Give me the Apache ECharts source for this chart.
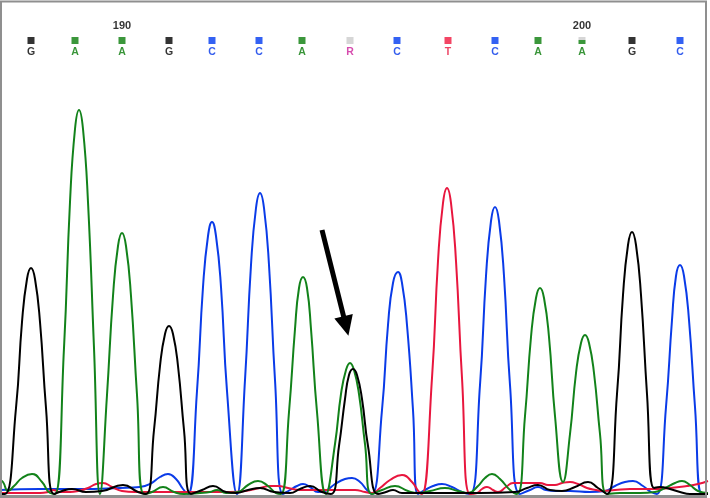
<!DOCTYPE html>
<html>
<head>
<meta charset="utf-8">
<script src="https://cdn.jsdelivr.net/npm/echarts@6/dist/echarts.min.js"></script>
<style>
html,body{margin:0;padding:0;background:#fff;}
#chart{width:710px;height:498px;}
</style>
</head>
<body>
<div id="chart"></div>
<script>
// ---- Data ----
const baseCalls = ['G','A','A','G','C','C','A','R','C','T','C','A','A','G','C'];
const basePositions = [31,75,122,169,212,259,302,350,397,448,495,538,582,632,680];
const tickLabels = ['190','200'];
const tickBaseIndex = [2,12];
const halfQualityIndex = [12];

// trace samples: [scan position, signal]
const traceG = [
[0,0],[5,0],[16,86],[22,172],[27,215],[31,226],[35,215],[40,172],[46,86],[54,0],
[62,3],[72,5],[86,2],[102,3],[123,9],[138,2],
[146,0],[154,64],[160,128],[165,160],[169,168],[173,160],[178,128],[184,64],[191,0],
[202,4],[213,8],[226,2],[236,1],[248,4],[260,6],[274,2],[290,1],[300,5],[310,8],[322,2],
[331,0],[339,48],[345,95],[349,119],[353,125],[357,119],[362,95],[368,48],[378,0],
[386,2],[393,4],[402,1],[440,1],[480,1],[515,2],[527,6],[538,9],[550,4],[562,3],[575,7],[588,12],[598,6],
[607,0],[617,100],[623,199],[628,249],[632,262],[636,249],[641,199],[647,100],[654,6],
[660,7],[670,5],[680,2],[690,0],[708,0]
];
const traceA = [
[0,14],[3,12],[8,3],[14,8],[22,16],[32,20],[42,12],[50,1],
[55,0],[64,146],[70,292],[75,365],[79,384],[83,365],[88,292],[94,146],[100,0],
[107,99],[113,198],[118,248],[122,261],[126,248],[131,198],[137,99],[144,0],
[152,2],[163,7],[174,2],[184,0],[200,1],[210,2],[217,4],[226,1],[238,2],[248,9],[258,13],[268,8],[276,1],
[281,0],[289,82],[295,165],[299,206],[303,217],[307,206],[311,165],[317,82],[326,0],
[335,50],[341,100],[346,124],[350,131],[354,124],[359,100],[365,50],[372,0],
[382,4],[395,8],[408,3],[418,1],[430,3],[445,6],[458,3],[468,1],
[478,8],[485,16],[492,20],[500,15],[510,4],
[517,0],[525,78],[531,157],[536,196],[540,206],[544,196],[549,157],[555,78],[563,12],
[570,60],[576,121],[581,151],[585,159],[589,151],[594,121],[600,60],[607,0],
[620,1],[640,1],[655,2],[665,6],[675,11],[682,13],[690,9],[698,3],[708,1]
];
const traceC = [
[0,4],[40,5],[80,5],[120,6],[140,7],[150,10],[160,17],[168,20],[176,15],[183,5],
[188,0],[197,103],[203,207],[208,258],[212,272],[216,258],[221,207],[227,103],[237,0],
[245,114],[251,229],[256,286],[260,301],[264,286],[269,229],[275,114],[283,0],
[290,4],[297,8],[303,10],[310,7],[318,2],[325,3],[335,10],[345,15],[352,16],[360,12],[367,4],
[372,0],[382,84],[388,169],[393,211],[398,222],[402,211],[407,169],[413,84],[418,0],
[425,4],[433,8],[442,10],[452,7],[462,2],
[470,0],[480,109],[486,218],[491,273],[495,287],[499,273],[504,218],[510,109],[520,0],
[530,4],[538,7],[546,4],[556,3],[570,3],[590,2],[605,3],[615,8],[625,12],[633,13],[643,8],[651,2],
[657,0],[666,87],[672,174],[676,218],[680,229],[684,218],[689,174],[695,87],[702,0],[708,0]
];
const traceT = [
[0,1],[40,1],[48,2],[53,4],[60,2],[70,2],[78,3],[88,6],[96,10],[103,11],[112,7],[122,3],[135,2],[160,2],[200,2],[230,2],
[245,3],[260,6],[270,8],[278,8],[288,6],[300,4],[315,4],[335,4],[355,4],[365,2],[372,1],[380,6],[390,14],[402,19],[412,12],[419,2],
[422,0],[432,116],[438,233],[443,291],[447,306],[451,291],[456,233],[462,116],[470,0],
[477,1],[482,5],[487,7],[493,4],[498,2],[506,7],[513,11],[525,11],[540,11],[548,9],[555,9],[562,11],[570,12],[578,10],[587,6],[596,4],[603,3],
[615,4],[630,5],[650,5],[670,6],[687,8],[698,10],[708,13]
];
// arrow annotation (data units)
const arrowStart = [322, 264];
const arrowEnd = [346, 168];

// ---- Styling ----
const traceColors = { G: '#000000', A: '#12821a', C: '#0a3be8', T: '#e8163e' };
const squareColors = { G: '#000000', A: '#0a7d0a', C: '#0039f0', T: '#f0173d', R: '#cccccc' };
const letterColors = { G: '#000000', A: '#087a08', C: '#0034e8', T: '#e8163e', R: '#cc1f9a' };
const ROW = 453.5;

const chart = echarts.init(document.getElementById('chart'), null, { renderer: 'canvas' });

const callData = baseCalls.map((b, i) => {
  let color = squareColors[b];
  if (halfQualityIndex.includes(i)) {
    color = new echarts.graphic.LinearGradient(0, 0, 0, 1, [
      { offset: 0, color: '#cccccc' }, { offset: 0.45, color: '#cccccc' },
      { offset: 0.45, color: squareColors[b] }, { offset: 1, color: squareColors[b] }
    ]);
  }
  return {
    value: [basePositions[i], ROW],
    itemStyle: { color: color },
    label: { color: letterColors[b] }
  };
});
const tickData = tickBaseIndex.map((idx, k) => ({
  value: [basePositions[idx], ROW], name: tickLabels[k]
}));

function trace(name, data) {
  return {
    type: 'line', name: name, data: data, smooth: 0.5, showSymbol: false, symbol: 'none',
    lineStyle: { color: traceColors[name], width: 2 }, silent: true, z: 2
  };
}

const option = {
  animation: false,
  backgroundColor: '#ffffff',
  grid: { left: 0, top: 0, width: 710, height: 494 },
  xAxis: { type: 'value', min: 0, max: 710, show: false },
  yAxis: { type: 'value', min: 0, max: 494, show: false },
  series: [
    trace('C', traceC),
    trace('T', traceT),
    trace('A', traceA),
    Object.assign(trace('G', traceG), {
      markLine: {
        silent: true, animation: false,
        symbol: ['none', 'triangle'], symbolSize: [19, 20],
        label: { show: false },
        lineStyle: { color: '#000', width: 5, type: 'solid' },
        emphasis: { disabled: true },
        data: [[{ coord: arrowStart }, { coord: arrowEnd }]]
      }
    }),
    {
      type: 'scatter', data: callData, symbol: 'rect', symbolSize: 7, silent: true, z: 5,
      label: { show: true, position: 'bottom', distance: 3,
        formatter: p => baseCalls[p.dataIndex],
        fontFamily: 'Liberation Sans, Arial, sans-serif', fontWeight: 'bold', fontSize: 10.5 }
    },
    {
      type: 'scatter', data: tickData, symbolSize: 1, itemStyle: { color: 'rgba(0,0,0,0)' }, silent: true, z: 5,
      label: { show: true, position: 'top', distance: 9, formatter: p => p.name, color: '#000',
        fontFamily: 'Liberation Sans, Arial, sans-serif', fontWeight: 'bold', fontSize: 11 }
    }
  ],
  graphic: [
    { type: 'rect', silent: true, z: 100, shape: { x: 1, y: 1.5, width: 705, height: 495 },
      style: { fill: null, stroke: '#8f8f8f', lineWidth: 2 } },
    { type: 'rect', silent: true, z: 100, shape: { x: 0, y: 495, width: 707, height: 3 },
      style: { fill: '#8f8f8f' } }
  ]
};
chart.setOption(option);
</script>
</body>
</html>
